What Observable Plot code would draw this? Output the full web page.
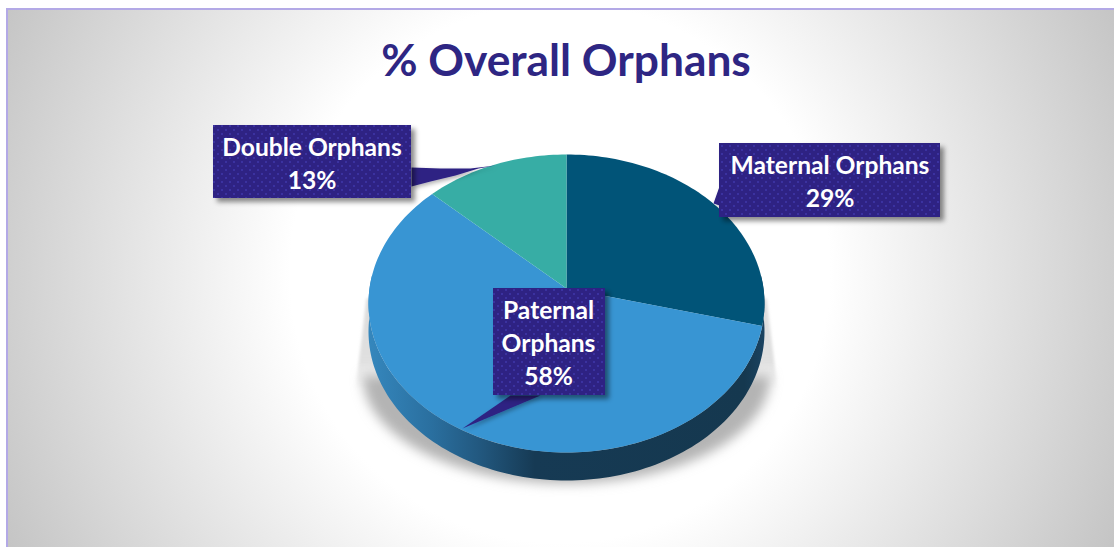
<!DOCTYPE html>
<html>
<head>
<meta charset="utf-8">
<script src="https://cdn.jsdelivr.net/npm/d3@7"></script>
<script src="https://cdn.jsdelivr.net/npm/@observablehq/plot@0.6"></script>
<style>
html,body{margin:0;padding:0;width:1114px;height:547px;overflow:hidden;background:#fff;}
#frame{position:absolute;left:6px;top:8px;width:1108px;height:539px;box-sizing:border-box;border-left:2px solid #b3a9e6;border-top:2px solid #b3a9e6;
background:radial-gradient(circle at 552px 263px,#fff 270px,#c4c4c4 620px);}
#chart{position:absolute;left:0;top:0;}
</style>
</head>
<body>
<div id="frame"></div>
<div id="chart"></div>
<script>
const titleText = "% Overall Orphans";
const categories = ["Maternal Orphans", "Paternal Orphans", "Double Orphans"];
const shares = [29, 58, 13];
const labelNames = ["Maternal Orphans", "Paternal\nOrphans", "Double Orphans"];
const sliceColors = ["#015478", "#3895d3", "#37ada5"];

// Layout of the perspective pie
const cx = 566, cy = 288, R = 197, S = 147.5, K = 0.1007, depth = 28;
const project = (a, drop = 0) => {
  const u = Math.sin(a), v = Math.cos(a), d = 1 + K * v;
  return {x: cx + R * u / d, y: cy - S * v / d + drop};
};
const arcSteps = (a0, a1) => d3.range(0, 1.0001, 1 / Math.max(2, Math.ceil(Math.abs(a1 - a0) * 40))).map(t => a0 + (a1 - a0) * t);

const total = d3.sum(shares);
let acc = 0;
const slicePoints = categories.flatMap((name, i) => {
  const a0 = acc / total * 2 * Math.PI;
  acc += shares[i];
  const a1 = acc / total * 2 * Math.PI;
  return [{x: cx, y: cy, name}, ...arcSteps(a0, a1).map(a => ({...project(a), name}))];
});

// Side wall: the visible lower rim, extruded downward
const rimFrom = Math.PI * 0.47, rimTo = Math.PI * 1.53;
const sidePoints = [
  ...arcSteps(rimFrom, rimTo).map(a => project(a)),
  ...arcSteps(rimTo, rimFrom).map(a => project(a, depth))
];

// Soft shadow beneath the pie, with pale slivers rising at both sides
const shadowPoints = arcSteps(Math.PI * 0.5, Math.PI * 1.5).map(a => ({x: 566 + 204 * Math.sin(a), y: 375 - 108 * Math.cos(a)}));
const sliverPoints = [{x: 366, y: 298}, {x: 355, y: 388}, {x: 777, y: 388}, {x: 766, y: 298}];

// Callout layout
const boxes = [
  {name: 0, x1: 719, x2: 940, y1: 143, y2: 217, tx: 829.5, ty: 179, tail: [[719,186],[713,203],[719,205]]},
  {name: 1, x1: 493, x2: 605, y1: 288, y2: 395, tx: 548,   ty: 341, tail: [[510,395],[462,428],[540,395]]},
  {name: 2, x1: 213, x2: 411, y1: 125, y2: 198, tx: 311.5, ty: 161, tail: [[411,167],[440,168],[470,168],[495,165],[478,168],[455,175],[430,181],[411,186]]}
];
const tails = boxes.flatMap(b => b.tail.map(([x, y]) => ({x, y, name: b.name})));
const labels = boxes.map(b => ({x: b.tx, y: b.ty, text: `${labelNames[b.name]}\n${shares[b.name]}%`}));

const withFilter = id => (index, scales, values, dims, ctx, next) => {
  const g = next(index, scales, values, dims, ctx);
  g.setAttribute("filter", `url(#${id})`);
  return g;
};

const plot = Plot.plot({
  width: 1114, height: 547,
  margin: 0,
  style: {background: "transparent", overflow: "visible"},
  x: {domain: [0, 1114], range: [0, 1114], axis: null},
  y: {domain: [0, 547], range: [0, 547], axis: null},
  color: {domain: categories, range: sliceColors},
  marks: [
    Plot.line(sliverPoints, {x: "x", y: "y", fill: "url(#sliverFill)", stroke: "none", curve: "linear", render: withFilter("soft1")}),
    Plot.line(shadowPoints, {x: "x", y: "y", fill: "#b4b4b4", stroke: "none", curve: "linear", render: withFilter("soft")}),
    Plot.line(sidePoints, {x: "x", y: "y", fill: "url(#sideFill)", stroke: "none", curve: "linear"}),
    Plot.line(slicePoints, {x: "x", y: "y", z: "name", fill: "name", stroke: "none", curve: "linear"}),
    Plot.line(tails, {x: "x", y: "y", z: "name", fill: "#2e2383", stroke: "none", curve: "linear", render: withFilter("dropThin")}),
    Plot.rect(boxes, {x1: "x1", x2: "x2", y1: "y1", y2: "y2", fill: "url(#dots)", render: withFilter("drop")}),
    Plot.text(labels, {x: "x", y: "y", text: "text", fill: "#fff", fontSize: 24.6, fontWeight: 700, fontFamily: "Lato", lineHeight: 1.34, lineAnchor: "middle", textAnchor: "middle"}),
    Plot.text([titleText], {x: () => 565.5, y: () => 61, text: d => d, fill: "#2e2683", fontSize: 44.3, fontWeight: 700, fontFamily: "Lato", textAnchor: "middle", lineAnchor: "middle"})
  ]
});

const defs = d3.select(plot).insert("defs", ":first-child");
const side = defs.append("linearGradient").attr("id", "sideFill").attr("gradientUnits", "userSpaceOnUse")
  .attr("x1", 368).attr("x2", 764).attr("y1", 0).attr("y2", 0);
[[0, "#3587bd"], [0.16, "#2a6f9f"], [0.28, "#22587f"], [0.42, "#163a54"], [0.95, "#15384f"], [1, "#1a4361"]]
  .forEach(([o, c]) => side.append("stop").attr("offset", o).attr("stop-color", c));
const sl = defs.append("linearGradient").attr("id", "sliverFill").attr("gradientUnits", "userSpaceOnUse")
  .attr("x1", 0).attr("x2", 0).attr("y1", 298).attr("y2", 388);
[[0, "#d8d8d8", 0.9], [0.7, "#d8d8d8", 0.8], [1, "#d8d8d8", 0]].forEach(([o, c, a]) => sl.append("stop").attr("offset", o).attr("stop-color", c).attr("stop-opacity", a));
const soft = defs.append("filter").attr("id", "soft").attr("x", "-10%").attr("y", "-15%").attr("width", "120%").attr("height", "130%");
soft.append("feGaussianBlur").attr("stdDeviation", 6);
const soft1 = defs.append("filter").attr("id", "soft1").attr("x", "-5%").attr("y", "-5%").attr("width", "110%").attr("height", "110%");
soft1.append("feGaussianBlur").attr("stdDeviation", 1.5);
const drop = defs.append("filter").attr("id", "drop").attr("x", "-20%").attr("y", "-20%").attr("width", "140%").attr("height", "140%");
drop.append("feDropShadow").attr("dx", 4).attr("dy", 4).attr("stdDeviation", 2.5).attr("flood-color", "#000").attr("flood-opacity", 0.45);
const dropThin = defs.append("filter").attr("id", "dropThin").attr("x", "-20%").attr("y", "-20%").attr("width", "140%").attr("height", "140%");
dropThin.append("feDropShadow").attr("dx", 2).attr("dy", 2).attr("stdDeviation", 2).attr("flood-color", "#000").attr("flood-opacity", 0.3);
const dots = defs.append("pattern").attr("id", "dots").attr("patternUnits", "userSpaceOnUse").attr("width", 8).attr("height", 8);
dots.append("rect").attr("width", 8).attr("height", 8).attr("fill", "#2e2383");
dots.append("rect").attr("x", 1).attr("y", 1).attr("width", 2).attr("height", 2).attr("fill", "#3a30a0");
dots.append("rect").attr("x", 5).attr("y", 5).attr("width", 2).attr("height", 2).attr("fill", "#3a30a0");

document.getElementById("chart").appendChild(plot);
</script>
</body>
</html>
